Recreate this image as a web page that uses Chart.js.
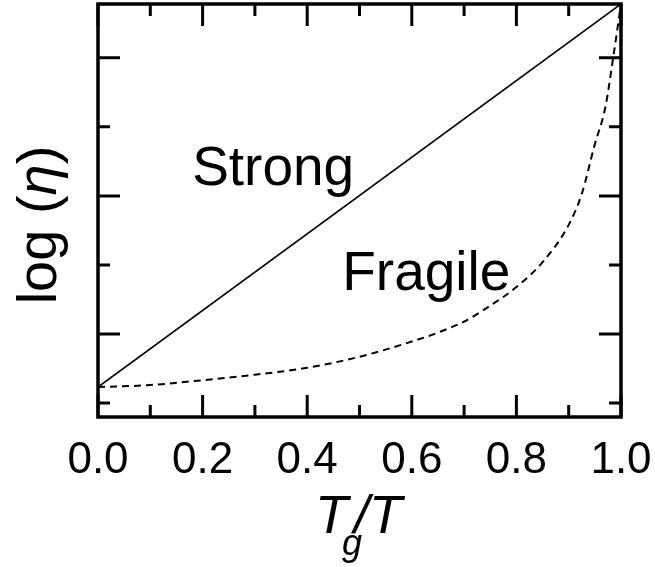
<!DOCTYPE html>
<html>
<head>
<meta charset="utf-8">
<script src="https://cdn.jsdelivr.net/npm/chart.js@4.4.0/dist/chart.umd.min.js"></script>
<style>
  body { margin: 0; background: #fff; }
  #wrap { width: 655px; height: 567px; position: relative; }
</style>
</head>
<body>
<div id="wrap"><canvas id="chart"></canvas></div>
<script>
// data
var strongX = [0, 1];
var strongY = [1.23, 6.78];

var fragileX = [0, 0.1, 0.2, 0.3, 0.4, 0.5, 0.6, 0.65, 0.7, 0.75, 0.8, 0.85, 0.9, 0.925, 0.95, 0.97, 0.985, 1.0];
var fragileY = [1.23, 1.26, 1.33, 1.41, 1.51, 1.67, 1.89, 2.02, 2.18, 2.41, 2.68, 3.04, 3.58, 4.03, 4.75, 5.28, 6.0, 6.78];

var yTicks = [1, 2, 3, 4, 5, 6];

// labels inside the plot: [text, x, y]
var notes = [["Strong", 0.18, 4.16], ["Fragile", 0.467, 2.64]];

var FONT = "'Liberation Sans', Arial, sans-serif";

function pts(xs, ys) {
    return xs.map(function (v, i) { return { x: v, y: ys[i] }; });
}

// frame, inside ticks, labels and axis titles
var framePlugin = {
    id: 'frame',
    afterDraw: function (chart) {
        var ctx = chart.ctx;
        var a = chart.chartArea;
        var x = chart.scales.x, y = chart.scales.y;
        ctx.save();
        ctx.strokeStyle = '#000';
        ctx.lineWidth = 3;
        ctx.beginPath();
        x.ticks.forEach(function (t, i) {
            var px = x.getPixelForValue(t.value);
            var len = i % 2 === 0 ? 22 : 12;
            ctx.moveTo(px, a.bottom); ctx.lineTo(px, a.bottom - len);
            ctx.moveTo(px, a.top); ctx.lineTo(px, a.top + len);
        });
        y.ticks.forEach(function (t) {
            var py = y.getPixelForValue(t.value);
            var len = Math.round(t.value) % 2 === 0 ? 22 : 12;
            ctx.moveTo(a.left, py); ctx.lineTo(a.left + len, py);
            ctx.moveTo(a.right, py); ctx.lineTo(a.right - len, py);
        });
        ctx.stroke();
        ctx.lineWidth = 3.5;
        ctx.strokeRect(a.left, a.top, a.right - a.left, a.bottom - a.top);

        ctx.fillStyle = '#000';
        ctx.textBaseline = 'alphabetic';
        ctx.textAlign = 'left';
        ctx.font = '55px ' + FONT;
        notes.forEach(function (n) {
            ctx.fillText(n[0], x.getPixelForValue(n[1]), y.getPixelForValue(n[2]));
        });

        // x title: T_g/T
        var tx = 315;
        ctx.font = 'italic 54px ' + FONT;
        ctx.fillText('T', tx, 533);
        var w1 = ctx.measureText('T').width;
        ctx.font = 'italic 36px ' + FONT;
        ctx.fillText('g', tx + w1 - 6, 555);
        ctx.font = 'italic 54px ' + FONT;
        ctx.fillText('/T', tx + w1 + 6, 533);

        // y title: log (η)
        ctx.translate(56, 225);
        ctx.rotate(-Math.PI / 2);
        ctx.font = '56px ' + FONT;
        var p1 = 'log (', p3 = ')';
        var wa = ctx.measureText(p1).width;
        var wc = ctx.measureText(p3).width;
        ctx.font = 'italic 56px ' + FONT;
        var wb = ctx.measureText('\u03B7').width;
        var start = -(wa + wb + wc) / 2;
        ctx.font = '56px ' + FONT;
        ctx.fillText(p1, start, 0);
        ctx.font = 'italic 56px ' + FONT;
        ctx.fillText('\u03B7', start + wa, 0);
        ctx.font = '56px ' + FONT;
        ctx.fillText(p3, start + wa + wb, 0);
        ctx.restore();
    }
};

var chart = new Chart(document.getElementById('chart'), {
    type: 'scatter',
    data: {
        datasets: [{
            label: 'Strong',
            data: pts(strongX, strongY),
            showLine: true,
            borderColor: '#000',
            borderWidth: 1.6,
            pointRadius: 0,
            fill: false
        }, {
            label: 'Fragile',
            data: pts(fragileX, fragileY),
            showLine: true,
            borderColor: '#000',
            borderWidth: 2,
            borderDash: [7, 5],
            cubicInterpolationMode: 'monotone',
            pointRadius: 0,
            fill: false
        }]
    },
    options: {
        responsive: true,
        maintainAspectRatio: false,
        animation: false,
        layout: {
            padding: { top: 4, right: 34, left: 0, bottom: 0 }
        },
        plugins: {
            legend: { display: false },
            tooltip: { enabled: false }
        },
        scales: {
            x: {
                type: 'linear',
                min: 0,
                max: 1,
                grid: { display: false, drawTicks: false },
                border: { display: false },
                ticks: {
                    stepSize: 0.1,
                    autoSkip: false,
                    maxRotation: 0,
                    padding: 17,
                    color: '#000',
                    font: { family: FONT, size: 44 },
                    callback: function (v, i) { return i % 2 === 0 ? v.toFixed(1) : ''; }
                },
                afterFit: function (scale) {
                    scale.height = 150;
                    scale.paddingLeft = 0;
                    scale.paddingRight = 0;
                }
            },
            y: {
                type: 'linear',
                min: 0.797,
                max: 6.78,
                grid: { display: false, drawTicks: false },
                border: { display: false },
                ticks: { display: false },
                afterBuildTicks: function (scale) {
                    scale.ticks = yTicks.map(function (v) { return { value: v }; });
                },
                afterFit: function (scale) {
                    scale.width = 98;
                    scale.paddingTop = 0;
                    scale.paddingBottom = 0;
                }
            }
        }
    },
    plugins: [framePlugin]
});
</script>
</body>
</html>
